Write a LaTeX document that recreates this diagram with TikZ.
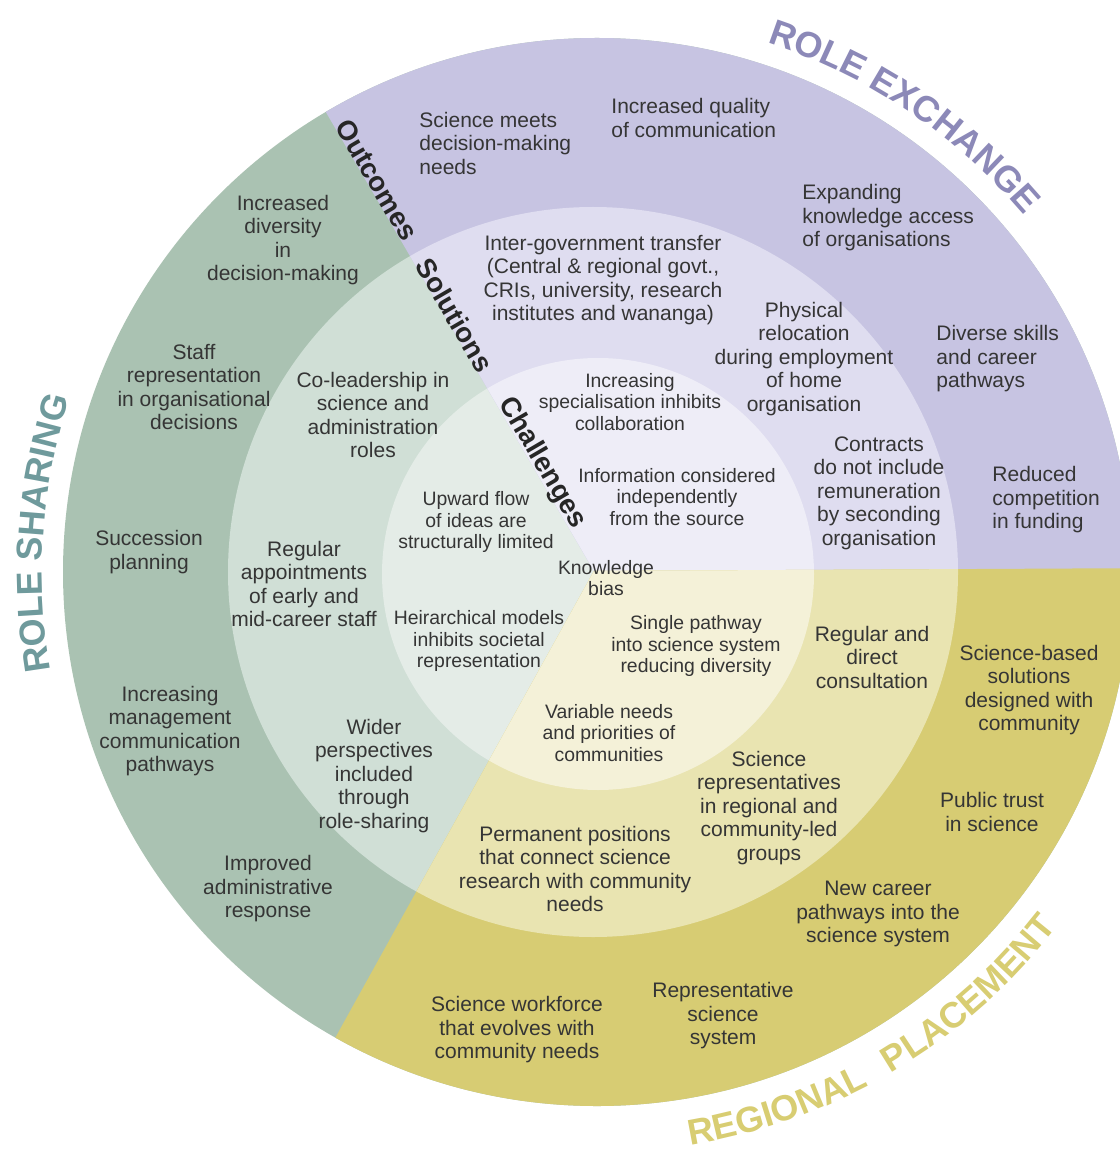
\documentclass[tikz,border=0pt]{standalone}
\usepackage{fontspec}
\setmainfont{Liberation Sans}
\usetikzlibrary{calc,decorations.text}

\definecolor{purO}{HTML}{C7C4E2}
\definecolor{purM}{HTML}{DFDDF0}
\definecolor{purI}{HTML}{EEEDF7}
\definecolor{grnO}{HTML}{AAC2B2}
\definecolor{grnM}{HTML}{D0DFD6}
\definecolor{grnI}{HTML}{E4ECE7}
\definecolor{yelO}{HTML}{D7CC73}
\definecolor{yelM}{HTML}{E9E4B1}
\definecolor{yelI}{HTML}{F4F1D8}
\definecolor{exchc}{HTML}{8C89B8}
\definecolor{sharec}{HTML}{6F9A9C}
\definecolor{placec}{HTML}{D8CD72}
\definecolor{inkc}{HTML}{353535}

\newcommand\ringtitlefont{\bfseries\fontsize{18}{18}\selectfont}

\begin{document}
\begin{tikzpicture}[x=0.5pt,y=-0.5pt,
  lbl/.style={font=\fontsize{10.5}{11.75}\selectfont, text=inkc, align=center, inner sep=0pt},
  lblleft/.style={lbl, align=left, anchor=west},
  lblin/.style={lbl, font=\fontsize{9.7}{10.75}\selectfont},
  tier/.style={font=\bfseries\fontsize{13.8}{13.8}\selectfont, text=black!85, rotate=-59.7, inner sep=0pt}]

\useasboundingbox (0,0) rectangle (1119,1154);
\fill[white] (0,0) rectangle (1119,1154);

\coordinate (c) at (594,571);

% role sharing rings (whole disc, later covered by the other two sectors)
\fill[grnO] (597,572) circle (534);
\fill[grnM] (593,572) circle (365);
\fill[grnI] (598,574) circle (216);

% role exchange sector
\begin{scope}
  \clip (c) -- ($(c)+(-120.3:900)$) -- ($(c)+(-60:1800)$) -- ($(c)+(0:900)$) -- cycle;
  \fill[purO] (597,572) circle (534);
  \fill[purM] (593,572) circle (365);
  \fill[purI] (598,574) circle (216);
\end{scope}

% regional placement sector
\begin{scope}
  \clip (c) -- ($(c)+(-0.3:900)$) -- ($(c)+(59.5:1800)$) -- ($(c)+(119:900)$) -- cycle;
  \fill[yelO] (597,572) circle (534);
  \fill[yelM] (593,572) circle (365);
  \fill[yelI] (598,574) circle (216);
\end{scope}

% curved ring titles
\path[decorate, decoration={text along path, text align=center, text color=exchc,
  text={|\ringtitlefont|ROLE EXCHANGE}}]
  plot[domain=-86:-26, samples=61] ({597+556*cos(\x)},{572+556*sin(\x)});
\path[decorate, decoration={text along path, text align=center, text color=sharec,
  text={|\ringtitlefont|ROLE SHARING}}]
  plot[domain=154:214, samples=61] ({597+555*cos(\x)},{572+555*sin(\x)});
\path[decorate, decoration={text along path, text align=center, text color=placec,
  text={|\ringtitlefont|REGIONAL}}]
  plot[domain=0:1, samples=61] ({597+581*cos(96.4-50*\x)},{572+581*sin(96.4-50*\x)});
\path[decorate, decoration={text along path, text align=center, text color=placec,
  text={|\ringtitlefont|PLACEMENT}}]
  plot[domain=0:1, samples=61] ({597+581*cos(73.6-50*\x)},{572+581*sin(73.6-50*\x)});

% tier labels along the sector edge
\node[tier] (outc) at (377,180) {Outcomes};
\node[tier] (solu) at (455,315) {Solutions};
\node[tier] (chal) at (542,463) {Challenges};

% role exchange: outcomes
\node[lblleft] (rx1) at (419,143) {Science meets\\decision-making\\needs};
\node[lblleft] (rx2) at (611,118) {Increased quality\\of communication};
\node[lblleft] (rx3) at (802,218) {Expanding\\knowledge access\\of organisations};
\node[lblleft] (rx4) at (936,359) {Diverse skills\\and career\\pathways};
\node[lblleft] (rx5) at (992,500) {Reduced\\competition\\in funding};
% role exchange: solutions
\node[lbl] (rx6) at (603,280) {Inter-government transfer\\(Central \& regional govt.,\\CRIs, university, research\\institutes and wananga)};
\node[lbl] (rx7) at (804,359) {Physical\\relocation\\during employment\\of home\\organisation};
\node[lbl] (rx8) at (879,493) {Contracts\\do not include\\remuneration\\by seconding\\organisation};
% role exchange: challenges
\node[lblin] (rx9) at (630,402) {Increasing\\specialisation inhibits\\collaboration};
\node[lblin] (rx10) at (677,497) {Information considered\\independently\\from the source};

% role sharing: outcomes
\node[lbl] (rs1) at (283,240) {Increased\\diversity\\in\\decision-making};
\node[lbl] (rs2) at (194,387) {Staff\\representation\\in organisational\\decisions};
\node[lbl] (rs3) at (149,552) {Succession\\planning};
\node[lbl] (rs4) at (170,731) {Increasing\\management\\communication\\pathways};
\node[lbl] (rs5) at (268,889) {Improved\\administrative\\response};
% role sharing: solutions
\node[lbl] (rs6) at (373,415) {Co-leadership in\\science and\\administration\\roles};
\node[lbl] (rs7) at (304,584) {Regular\\appointments\\of early and\\mid-career staff};
\node[lbl] (rs8) at (374,776) {Wider\\perspectives\\included\\through\\role-sharing};
% role sharing: challenges
\node[lblin] (rs9) at (476,522) {Upward flow\\of ideas are\\structurally limited};
\node[lblin] (rs10) at (479,641) {Heirarchical models\\inhibits societal\\representation};

% shared centre
\node[lblin] (kb) at (606,578) {Knowledge\\bias};

% regional placement: challenges
\node[lblin] (rp1) at (696,646) {Single pathway\\into science system\\reducing diversity};
\node[lblin] (rp2) at (609,733) {Variable needs\\and priorities of\\communities};
% regional placement: solutions
\node[lbl] (rp3) at (872,657) {Regular and\\direct\\consultation};
\node[lbl] (rp4) at (769,808) {Science\\representatives\\in regional and\\community-led\\groups};
\node[lbl] (rp5) at (575,869) {Permanent positions\\that connect science\\research with community\\needs};
% regional placement: outcomes
\node[lbl] (rp6) at (1029,690) {Science-based\\solutions\\designed with\\community};
\node[lbl] (rp7) at (992,812) {Public trust\\in science};
\node[lbl] (rp8) at (878,914) {New career\\pathways into the\\science system};
\node[lbl] (rp9) at (723,1016) {Representative\\science\\system};
\node[lbl] (rp10) at (517,1030) {Science workforce\\that evolves with\\community needs};

\end{tikzpicture}
\end{document}
